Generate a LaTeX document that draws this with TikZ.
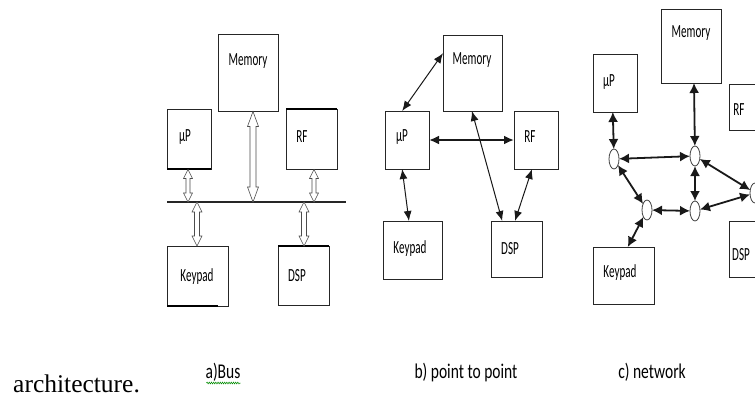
\documentclass[tikz,border=0pt]{standalone}
\usepackage{fontspec}
\setmainfont{Liberation Serif}
\newfontfamily\carl{Carlito}
\usetikzlibrary{arrows.meta,calc,shapes.geometric,decorations.pathmorphing}
\newcommand\nlab[1]{\scalebox{0.6}[1]{\carl\fontsize{18.5}{18.5}\selectfont #1}}
\newcommand\ncap[1]{\scalebox{0.74}[1]{\carl\fontsize{21}{21}\selectfont #1}}
% hollow vertical double arrow: x, ytop, ybottom, head length, head half width, shaft half width
\newcommand\harrow[6]{%
  \draw[hollow] (#1,#2) -- ({#1+#5},{#2+#4}) -- ({#1+#6},{#2+#4}) -- ({#1+#6},{#3-#4})
    -- ({#1+#5},{#3-#4}) -- (#1,#3) -- ({#1-#5},{#3-#4}) -- ({#1-#6},{#3-#4})
    -- ({#1-#6},{#2+#4}) -- ({#1-#5},{#2+#4}) -- cycle;}
\newcommand\bx[5]{%
  \node[box, minimum width={(#4-#2)*1pt}, minimum height={(#5-#3)*1pt}] (#1) at ({(#2+#4)/2},{(#3+#5)/2}) {};}
\tikzset{
  box/.style={draw=black!85, line width=0.9pt, inner sep=0pt, outer sep=0pt, fill=white},
  lbl/.style={inner sep=0pt, text=black},
  thickedge/.style={line width=2.6pt, black},
  hollow/.style={draw=black!70, line width=0.6pt, fill=white},
  pp/.style={line width=1pt, black!90, {Latex[length=10pt,width=8pt]}-{Latex[length=10pt,width=8pt]}},
  ppthick/.style={line width=2pt, black!90, {Latex[length=10pt,width=9pt]}-{Latex[length=10pt,width=9pt]}},
  nw/.style={line width=1.8pt, black!90, {Latex[length=10pt,width=10pt]}-{Latex[length=10pt,width=10pt]}},
  hub/.style={ellipse, draw=black!75, line width=0.8pt, minimum width=10pt, minimum height=20pt, inner sep=0pt, outer sep=0pt, fill=white},
}
\begin{document}
\begin{tikzpicture}[x=1pt,y=-1pt]
\useasboundingbox (0,0) rectangle (755,399);
\clip (0,0) rectangle (755,399);
\fill[white] (0,0) rectangle (755,399);

% ---------------- a) Bus ----------------
\bx{aMem}{218}{34}{278}{111}
\bx{aUP}{167}{109}{211}{169}
\bx{aRF}{286}{109}{337}{169}
\bx{aKey}{167}{246}{228}{306}
\bx{aDSP}{278}{246}{329}{305}
\draw[thickedge] (aUP.south west) -- (aUP.south east);
\draw[thickedge] (aRF.north west) -- (aRF.north east);
\draw[thickedge] (aKey.south west) -- ($(aKey.south west)!0.84!(aKey.south east)$);
\draw[thickedge] (aDSP.north west) -- (aDSP.north east);
\coordinate (busL) at (167,202);
\coordinate (busR) at (346,202);
\draw[line width=1.3pt, black!85] (busL) -- (busR);
\harrow{188}{169.5}{202}{9}{4.5}{2}
\harrow{253}{111.5}{202}{15}{5.5}{3}
\harrow{314}{169.5}{202}{9}{4.5}{2}
\harrow{197}{202}{246}{10}{5}{2.5}
\harrow{304}{202}{246}{10}{5}{2.5}
\node[lbl] (aMemT) at (248,61) {\nlab{Memory}};
\node[lbl] (aUPT) at (185,137) {\nlab{µP}};
\node[lbl] (aRFT) at (302,137) {\nlab{RF}};
\node[lbl] (aKeyT) at (197,277) {\nlab{Keypad}};
\node[lbl] (aDSPT) at (297,276) {\nlab{DSP}};

% ---------------- b) point to point ----------------
\bx{bMem}{443}{35}{502}{111}
\bx{bUP}{385}{111}{429}{169}
\bx{bRF}{514}{111}{558}{169}
\bx{bKey}{383}{221}{442}{279}
\bx{bDSP}{491}{221}{542}{277}
\draw[pp] ($(bMem.north west)!0.24!(bMem.south west)$) -- ($(bUP.north west)!0.39!(bUP.north east)$);
\draw[ppthick] (bUP.east) -- (bRF.west);
\draw[pp] ($(bMem.south west)!0.49!(bMem.south east)$) -- ($(bDSP.north west)!0.22!(bDSP.north east)$);
\draw[pp] ($(bRF.south west)!0.41!(bRF.south east)$) -- ($(bDSP.north west)!0.47!(bDSP.north east)$);
\draw[pp] ($(bUP.south west)!0.39!(bUP.south east)$) -- ($(bKey.north west)!0.44!(bKey.north east)$);
\node[lbl] (bMemT) at (472,60) {\nlab{Memory}};
\node[lbl] (bUPT) at (402,137) {\nlab{µP}};
\node[lbl] (bRFT) at (530,137) {\nlab{RF}};
\node[lbl] (bKeyT) at (410,249) {\nlab{Keypad}};
\node[lbl] (bDSPT) at (510,249) {\nlab{DSP}};

% ---------------- c) network ----------------
\bx{cMem}{661}{9}{721}{83}
\bx{cUP}{593}{54}{637}{112}
\bx{cRF}{729}{84}{775}{130}
\bx{cDSP}{729}{221}{775}{277}
\bx{cKey}{593}{247}{654}{304}
\node[hub] (h1) at (614,159) {};
\node[hub] (h2) at (695,156) {};
\node[hub] (h3) at (647,210) {};
\node[hub] (h4) at (695,211) {};
\node[hub] (h5) at (755,193) {};
\draw[nw] ($(cUP.south west)!0.45!(cUP.south east)$) -- (h1);
\draw[nw] (h1) -- (h2);
\draw[nw] (h1) -- (h3);
\draw[nw] ($(cKey.north west)!0.57!(cKey.north east)$) -- (h3);
\draw[nw] ($(cMem.south west)!0.55!(cMem.south east)$) -- (h2);
\draw[nw] (h2) -- (h4);
\draw[nw] (h3) -- (h4);
\draw[nw] (h2) -- (h5);
\draw[nw] (h4) -- (h5);
\node[lbl] (cMemT) at (691,33) {\nlab{Memory}};
\node[lbl] (cUPT) at (609,82) {\nlab{µP}};
\node[lbl] (cRFT) at (739,110) {\nlab{RF}};
\node[lbl] (cDSPT) at (741,255) {\nlab{DSP}};
\node[lbl] (cKeyT) at (620,273) {\nlab{Keypad}};

% ---------------- captions ----------------
\node[lbl, anchor=base] (capA) at (223,378) {\ncap{a)Bus}};
\node[lbl, anchor=base] (capB) at (466,378) {\ncap{b) point to point}};
\node[lbl, anchor=base] (capC) at (652,378) {\ncap{c) network}};
\draw[green!55!black, line width=0.5pt, decorate, decoration={snake, amplitude=0.9pt, segment length=2.2pt}] ($(capA.base west)+(1,5)$) -- ($(capA.base east)+(0,5)$);
\node[lbl, anchor=base west, text=black] (arch) at (13,392) {\fontsize{25.5}{25.5}\selectfont architecture.};
\end{tikzpicture}
\end{document}
